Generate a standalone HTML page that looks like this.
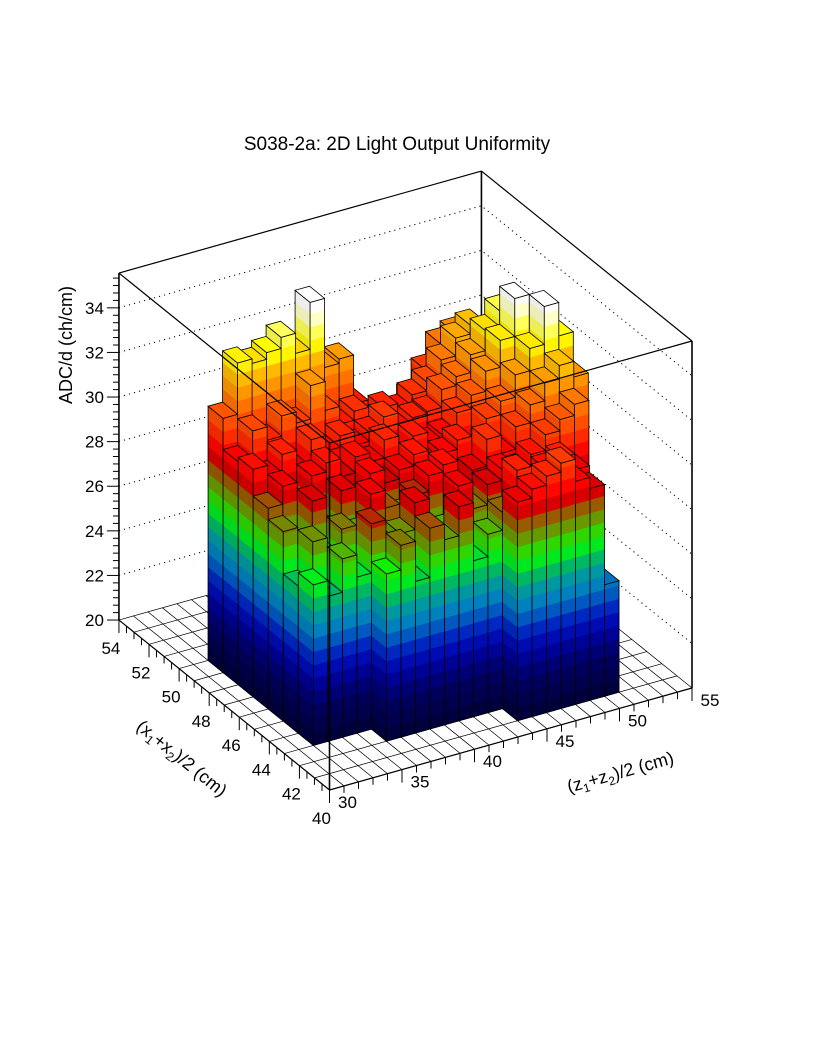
<!DOCTYPE html>
<html><head><meta charset="utf-8"><style>
html,body{margin:0;padding:0;background:#fff;}
svg{display:block;font-family:"Liberation Sans",sans-serif;}
</style></head><body>
<svg id="chart" width="816" height="1056" viewBox="0 0 816 1056" xmlns="http://www.w3.org/2000/svg">
<rect width="816" height="1056" fill="#fff"/>
<text x="397" y="150" font-size="19" text-anchor="middle">S038-2a: 2D Light Output Uniformity</text>
<g id="walls"></g>
<g id="floor"></g>
<g id="bars"></g>
<g id="frame"></g>
<g id="axes"></g>
<text x="0" y="0" font-size="18" text-anchor="middle" transform="translate(72,345) rotate(-90)">ADC/d (ch/cm)</text>
<text x="0" y="0" font-size="18" text-anchor="middle" transform="translate(178,763) rotate(38.9)">(x<tspan font-size="12" dy="4">1</tspan><tspan dy="-4">+x</tspan><tspan font-size="12" dy="4">2</tspan><tspan dy="-4">)/2 (cm)</tspan></text>
<text x="0" y="0" font-size="18" text-anchor="middle" transform="translate(622,778) rotate(-15.7)">(z<tspan font-size="12" dy="4">1</tspan><tspan dy="-4">+z</tspan><tspan font-size="12" dy="4">2</tspan><tspan dy="-4">)/2 (cm)</tspan></text>
</svg>
<script>
// ---- data ----
const xBins = [41,42,43,44,45,46,47,48,49];
const zBins = [32,33,34,35,36,37,38,39,40,41,42,43,44,45,46,47,48,49,50,51];
const n = null;
const rowX41 = [n,n,n,n, n,n,n,n,n,n,n,n, 29.8,30.2,30.6,31.0,30.0,29.5,25.0,n];
const rowX42 = [n,n,n,n, 27.5,28.6,26.8,29.0,28.3,29.6,27.0,28.0, 28.8,30.5,29.0,30.2,30.5,29.8,27.0,n];
const rowX43 = [27.2,26.5,28.0,27.0, 29.2,28.0,28.4,29.6,26.5,28.0,29.8,28.6, 29.5,30.0,29.8,30.3,31.0,31.5,32.0,27.5];
const rowX44 = [26.6,28.4,27.5,28.6, 28.2,29.8,29.0,28.5,29.2,29.9,30.2,28.9, 29.6,30.8,30.0,31.0,31.8,32.6,33.2,32.5];
const rowX45 = [28.5,27.3,29.5,28.0, 29.6,29.0,30.0,29.4,29.8,30.3,29.7,30.0, 30.4,29.6,31.0,31.6,32.6,33.6,35.3,33.8];
const rowX46 = [29.0,29.8,28.8,29.9, 30.3,29.5,30.2,29.8,30.6,29.6,30.4,29.9, 30.1,30.9,31.5,32.4,33.6,35.3,34.2,33.0];
const rowX47 = [30.2,29.7,30.5,29.6, 30.8,30.1,30.6,30.0,30.4,30.9,30.2,30.5, 30.6,31.4,31.8,32.6,33.5,34.2,33.4,32.0];
const rowX48 = [30.0,31.2,30.6,31.5, 31.0,32.5,31.2,30.4,30.8,29.8,30.6,30.3, 30.8,31.2,32.0,32.8,33.2,32.6,32.0,31.0];
const rowX49 = [31.4,33.7,33.5,33.8, 34.3,33.4,35.5,32.4,32.6,30.4,29.5,28.4, 28.0,30.0,31.0,32.0,32.3,31.5,31.0,30.0];
const rows = [rowX41,rowX42,rowX43,rowX44,rowX45,rowX46,rowX47,rowX48,rowX49];
const yTicks = [20,22,24,26,28,30,32,34];
const xTicks = [40,42,44,46,48,50,52,54];
const zTicks = [30,35,40,45,50,55];

// ---- projection ----
const XMIN=40,XMAX=54,ZMIN=30,ZMAX=55,VMIN=20,VMAX=35.56;
const O=[329.5,790], EX=[-15.04,-12.14], EZ=[14.5,-4.08], EV=22.3;
function P(x,z,v){return [O[0]+(x-XMIN)*EX[0]+(z-ZMIN)*EZ[0], O[1]+(x-XMIN)*EX[1]+(z-ZMIN)*EZ[1]-(v-VMIN)*EV];}
const NS='http://www.w3.org/2000/svg';
function el(tag,attrs,parent){const e=document.createElementNS(NS,tag);for(const k in attrs)e.setAttribute(k,attrs[k]);parent.appendChild(e);return e;}
function pts(a){return a.map(p=>p[0].toFixed(1)+','+p[1].toFixed(1)).join(' ');}

// palette
const pv=[20,21.7,22.6,23.6,24.2,24.8,25.4,26.0,26.6,27.2,27.6,28.2,28.8,29.2,29.8,30.6,31.4,32.2,33.0,33.6,34.4,35.0];
const pc=['#000035','#000060','#000090','#0010c0','#0040c0','#0070c0','#0090b8','#00a088','#00d040','#00ff00','#40c800','#709000','#a05000','#d00000','#ff0000','#ff3000','#ff6000','#ff9000','#ffc000','#ffff00','#ffff90','#ffffff'];
function hex(c){return [parseInt(c.substr(1,2),16),parseInt(c.substr(3,2),16),parseInt(c.substr(5,2),16)];}
function colorAt(v,f){
  let k=0; while(k<pv.length-2 && v>pv[k+1]) k++;
  let t=(v-pv[k])/(pv[k+1]-pv[k]); t=Math.max(0,Math.min(1,t));
  const a=hex(pc[k]),b=hex(pc[k+1]);
  return 'rgb('+a.map((c,i)=>Math.round((c+(b[i]-c)*t)*f)).join(',')+')';
}
const STEP=0.6;

// ---- walls ----
const walls=document.getElementById('walls');
yTicks.slice(1).forEach(v=>{
  const l1=el('polyline',{points:pts([P(XMAX,ZMIN,v),P(XMAX,ZMAX,v),P(XMIN,ZMAX,v)]),fill:'none',stroke:'#000','stroke-width':1,'stroke-dasharray':'1.2,4'},walls);
  
  
});
const bv=el('line',{x1:P(XMAX,ZMAX,VMIN)[0],y1:P(XMAX,ZMAX,VMIN)[1],x2:P(XMAX,ZMAX,VMAX)[0],y2:P(XMAX,ZMAX,VMAX)[1],stroke:'#000','stroke-width':1.6},walls);



// ---- floor ----
const floor=document.getElementById('floor');
for(let x=XMIN;x<=XMAX;x++){
  const a=P(x,ZMIN,VMIN),b=P(x,ZMAX,VMIN);
  const l=el('line',{x1:a[0],y1:a[1],x2:b[0],y2:b[1],stroke:'#000','stroke-width':0.7},floor);
  
  
}
for(let z=ZMIN;z<=ZMAX;z++){
  const a=P(XMIN,z,VMIN),b=P(XMAX,z,VMIN);
  const l=el('line',{x1:a[0],y1:a[1],x2:b[0],y2:b[1],stroke:'#000','stroke-width':0.7},floor);
  
  
}

// ---- bars ----
const barsG=document.getElementById('bars');
const list=[];
rows.forEach((row,i)=>row.forEach((v,j)=>{ if(v!==null) list.push({i,j,v}); }));
list.sort((a,b)=>(b.i+b.j)-(a.i+a.j) || (b.i-a.i));
function face(g,A,B,v,f){
  for(let a=VMIN;a<v;a+=STEP){
    const b=Math.min(v,a+STEP);
    const c=colorAt((a+b)/2,f);
    el('polygon',{points:pts([P(A[0],A[1],a),P(B[0],B[1],a),P(B[0],B[1],b),P(A[0],A[1],b)]),fill:c,stroke:c,'stroke-width':0.6},g);
  }
  el('polygon',{points:pts([P(A[0],A[1],VMIN),P(B[0],B[1],VMIN),P(B[0],B[1],v),P(A[0],A[1],v)]),fill:'none',stroke:'#000','stroke-width':0.8},g);
}
list.forEach(d=>{
  const x0=xBins[d.i],x1=x0+1,z0=zBins[d.j],z1=z0+1,v=d.v;
  const g=el('g',{},barsG);
  
  
  face(g,[x0,z0],[x1,z0],v,0.93);
  face(g,[x0,z0],[x0,z1],v,1.0);
  const tc=colorAt(Math.min(v,VMAX)-0.2,1);
  el('polygon',{points:pts([P(x0,z0,v),P(x0,z1,v),P(x1,z1,v),P(x1,z0,v)]),fill:tc,stroke:'#000','stroke-width':0.8},g);
});

// ---- frame ----
const frame=document.getElementById('frame');
function fl(a,b,w,name){const l=el('line',{x1:a[0],y1:a[1],x2:b[0],y2:b[1],stroke:'#000','stroke-width':w},frame);
  
  }
fl(P(XMAX,ZMIN,VMIN),P(XMAX,ZMIN,VMAX),1.6,'left-edge');
fl(P(XMIN,ZMIN,VMIN),P(XMIN,ZMIN,VMAX),1.6,'front-edge');
fl(P(XMIN,ZMAX,VMIN),P(XMIN,ZMAX,VMAX),1.6,'right-edge');
fl(P(XMAX,ZMIN,VMAX),P(XMAX,ZMAX,VMAX),1.2,'top-back-left');
fl(P(XMAX,ZMAX,VMAX),P(XMIN,ZMAX,VMAX),1.2,'top-back-right');
fl(P(XMAX,ZMIN,VMAX),P(XMIN,ZMIN,VMAX),1.2,'top-front-left');
fl(P(XMIN,ZMIN,VMAX),P(XMIN,ZMAX,VMAX),1.2,'top-front-right');
fl(P(XMAX,ZMIN,VMIN),P(XMIN,ZMIN,VMIN),1.2,'x-axis-line');
fl(P(XMIN,ZMIN,VMIN),P(XMIN,ZMAX,VMIN),1.2,'z-axis-line');

// ---- axes ----
const axes=document.getElementById('axes');
for(let v=VMIN;v<=VMAX+1e-6;v+=1/3){
  const p=P(XMAX,ZMIN,v);const major=Math.abs(v-Math.round(v/2)*2)<1e-3;
  const t=el('line',{x1:p[0],y1:p[1],x2:p[0]-(major?12:6),y2:p[1],stroke:'#000','stroke-width':1},axes);
  
  
}
yTicks.forEach(v=>{const p=P(XMAX,ZMIN,v);
  const t=el('text',{x:p[0]-15,y:p[1]+6,'font-size':17,'text-anchor':'end'},axes);t.textContent=v;
  
  });
for(let x=XMIN;x<=XMAX+1e-6;x+=0.5){
  const p=P(x,ZMIN,VMIN);const major=Math.abs(x-Math.round(x/2)*2)<1e-3;
  const t=el('line',{x1:p[0],y1:p[1],x2:p[0],y2:p[1]+(major?13:7),stroke:'#000','stroke-width':1},axes);
  
  
}
xTicks.forEach(x=>{const p=P(x,ZMIN,VMIN);
  const t=el('text',{x:p[0]-8,y:p[1]+34,'font-size':17,'text-anchor':'middle'},axes);t.textContent=x;
  
  });
for(let z=ZMIN;z<=ZMAX;z+=1){
  const p=P(XMIN,z,VMIN);const major=z%5===0;
  const t=el('line',{x1:p[0],y1:p[1],x2:p[0],y2:p[1]+(major?13:7),stroke:'#000','stroke-width':1},axes);
  
  
}
zTicks.forEach(z=>{const p=P(XMIN,z,VMIN);
  const t=el('text',{x:p[0]+18,y:p[1]+18,'font-size':17,'text-anchor':'middle'},axes);t.textContent=z;
  
  });
</script>
</body></html>
